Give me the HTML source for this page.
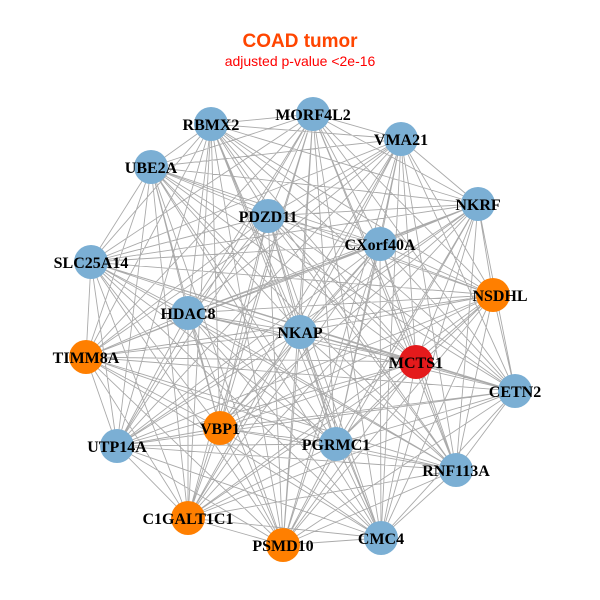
<!DOCTYPE html>
<html><head><meta charset="utf-8"><style>
html,body{margin:0;padding:0;background:#fff;}
svg{display:block}
.l{font-family:"Liberation Serif",serif;font-weight:bold;font-size:16px;fill:#000;text-anchor:middle}
</style></head><body>
<svg width="600" height="600" viewBox="0 0 600 600">
<rect width="600" height="600" fill="#fff"/>
<text x="300" y="47" font-family="Liberation Sans, sans-serif" font-weight="bold" font-size="19" fill="#ff4500" text-anchor="middle">COAD tumor</text>
<text x="300" y="66" font-family="Liberation Sans, sans-serif" font-size="14" fill="#ff0000" text-anchor="middle">adjusted p-value &lt;2e-16</text>
<path fill="none" stroke="#aaaaaa" stroke-width="0.9" d="
M313 114L211 124 313 114 401 139 313 114 151 167 313 114 478 204 313 114 268 216 313 114 380 244 313 114 91 262 313 114 493 295 313 114 188 313 313 114 300 332 313 114 86 357 313 114 416 362 313 114 515 391 313 114 220 428 313 114 117 446 313 114 336 444 313 114 456 470 313 114 188 518 313 114 381 538 313 114 283 545
M211 124L401 139 211 124 151 167 211 124 478 204 211 124 268 216 211 124 380 244 211 124 91 262 211 124 493 295 211 124 188 313 211 124 300 332 211 124 86 357 211 124 416 362 211 124 515 391 211 124 220 428 211 124 117 446 211 124 336 444 211 124 456 470 211 124 188 518 211 124 381 538 211 124 283 545
M401 139L151 167 401 139 478 204 401 139 268 216 401 139 380 244 401 139 91 262 401 139 493 295 401 139 188 313 401 139 300 332 401 139 86 357 401 139 416 362 401 139 515 391 401 139 220 428 401 139 117 446 401 139 336 444 401 139 456 470 401 139 188 518 401 139 381 538 401 139 283 545
M151 167L478 204 151 167 268 216 151 167 380 244 151 167 91 262 151 167 493 295 151 167 188 313 151 167 300 332 151 167 86 357 151 167 416 362 151 167 515 391 151 167 220 428 151 167 117 446 151 167 336 444 151 167 456 470 151 167 188 518 151 167 381 538 151 167 283 545
M478 204L268 216 478 204 380 244 478 204 91 262 478 204 493 295 478 204 188 313 478 204 300 332 478 204 86 357 478 204 416 362 478 204 515 391 478 204 220 428 478 204 117 446 478 204 336 444 478 204 456 470 478 204 188 518 478 204 381 538 478 204 283 545
M268 216L380 244 268 216 91 262 268 216 493 295 268 216 188 313 268 216 300 332 268 216 86 357 268 216 416 362 268 216 515 391 268 216 220 428 268 216 117 446 268 216 336 444 268 216 456 470 268 216 188 518 268 216 381 538 268 216 283 545
M380 244L91 262 380 244 493 295 380 244 188 313 380 244 300 332 380 244 86 357 380 244 416 362 380 244 515 391 380 244 220 428 380 244 117 446 380 244 336 444 380 244 456 470 380 244 188 518 380 244 381 538 380 244 283 545
M91 262L493 295 91 262 188 313 91 262 300 332 91 262 86 357 91 262 416 362 91 262 515 391 91 262 220 428 91 262 117 446 91 262 336 444 91 262 456 470 91 262 188 518 91 262 381 538 91 262 283 545
M493 295L188 313 493 295 300 332 493 295 86 357 493 295 416 362 493 295 515 391 493 295 220 428 493 295 117 446 493 295 336 444 493 295 456 470 493 295 188 518 493 295 381 538 493 295 283 545
M188 313L300 332 188 313 86 357 188 313 416 362 188 313 515 391 188 313 220 428 188 313 117 446 188 313 336 444 188 313 456 470 188 313 188 518 188 313 381 538 188 313 283 545
M300 332L86 357 300 332 416 362 300 332 515 391 300 332 220 428 300 332 117 446 300 332 336 444 300 332 456 470 300 332 188 518 300 332 381 538 300 332 283 545
M86 357L416 362 86 357 515 391 86 357 220 428 86 357 117 446 86 357 336 444 86 357 456 470 86 357 188 518 86 357 381 538 86 357 283 545
M416 362L515 391 416 362 220 428 416 362 117 446 416 362 336 444 416 362 456 470 416 362 188 518 416 362 381 538 416 362 283 545
M515 391L220 428 515 391 117 446 515 391 336 444 515 391 456 470 515 391 188 518 515 391 381 538 515 391 283 545
M220 428L117 446 220 428 336 444 220 428 456 470 220 428 188 518 220 428 381 538 220 428 283 545
M117 446L336 444 117 446 456 470 117 446 188 518 117 446 381 538 117 446 283 545
M336 444L456 470 336 444 188 518 336 444 381 538 336 444 283 545
M456 470L188 518 456 470 381 538 456 470 283 545
M188 518L381 538 188 518 283 545
M381 538L283 545"/>
<g stroke="none">
<circle cx="313" cy="114" r="17" fill="#7bafd4"/>
<circle cx="211" cy="124" r="17" fill="#7bafd4"/>
<circle cx="401" cy="139" r="17" fill="#7bafd4"/>
<circle cx="151" cy="167" r="17" fill="#7bafd4"/>
<circle cx="478" cy="204" r="17" fill="#7bafd4"/>
<circle cx="268" cy="216" r="17" fill="#7bafd4"/>
<circle cx="380" cy="244" r="17" fill="#7bafd4"/>
<circle cx="91" cy="262" r="17" fill="#7bafd4"/>
<circle cx="493" cy="295" r="17" fill="#ff7f00"/>
<circle cx="188" cy="313" r="17" fill="#7bafd4"/>
<circle cx="300" cy="332" r="17" fill="#7bafd4"/>
<circle cx="86" cy="357" r="17" fill="#ff7f00"/>
<circle cx="416" cy="362" r="17" fill="#e41a1c"/>
<circle cx="515" cy="391" r="17" fill="#7bafd4"/>
<circle cx="220" cy="428" r="17" fill="#ff7f00"/>
<circle cx="117" cy="446" r="17" fill="#7bafd4"/>
<circle cx="336" cy="444" r="17" fill="#7bafd4"/>
<circle cx="456" cy="470" r="17" fill="#7bafd4"/>
<circle cx="188" cy="518" r="17" fill="#ff7f00"/>
<circle cx="381" cy="538" r="17" fill="#7bafd4"/>
<circle cx="283" cy="545" r="17" fill="#ff7f00"/>
</g>
<g>
<text class="l" x="313" y="120">MORF4L2</text>
<text class="l" x="211" y="130">RBMX2</text>
<text class="l" x="401" y="145">VMA21</text>
<text class="l" x="151" y="173">UBE2A</text>
<text class="l" x="478" y="210">NKRF</text>
<text class="l" x="268" y="222">PDZD11</text>
<text class="l" x="380" y="250">CXorf40A</text>
<text class="l" x="91" y="268">SLC25A14</text>
<text class="l" x="500" y="301">NSDHL</text>
<text class="l" x="188" y="319">HDAC8</text>
<text class="l" x="300" y="338">NKAP</text>
<text class="l" x="86" y="363">TIMM8A</text>
<text class="l" x="416" y="368">MCTS1</text>
<text class="l" x="515" y="397">CETN2</text>
<text class="l" x="220" y="434">VBP1</text>
<text class="l" x="117" y="452">UTP14A</text>
<text class="l" x="336" y="450">PGRMC1</text>
<text class="l" x="456" y="476">RNF113A</text>
<text class="l" x="188" y="524">C1GALT1C1</text>
<text class="l" x="381" y="544">CMC4</text>
<text class="l" x="283" y="551">PSMD10</text>
</g>
</svg>
</body></html>
